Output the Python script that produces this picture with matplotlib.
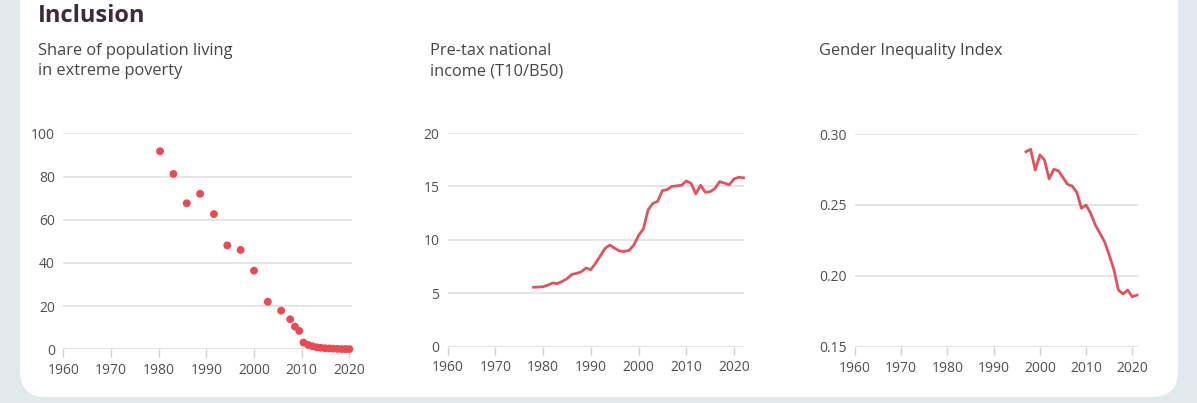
import matplotlib
matplotlib.use("Agg")
import matplotlib.pyplot as plt
from matplotlib.patches import FancyBboxPatch

plt.rcParams['font.family'] = ['Open Sans', 'DejaVu Sans']

# ---- Data ----
poverty_years = [1980.3, 1983.1, 1985.9, 1988.7, 1991.6, 1994.4, 1997.2, 2000.0,
                 2002.9, 2005.7, 2007.6, 2008.6, 2009.5, 2010.4, 2011.4, 2012.3,
                 2013.2, 2014.0, 2014.9, 2015.8, 2016.6, 2017.5, 2018.4, 2019.2, 2020.0]
poverty_share = [91.7, 81.2, 67.6, 72.0, 62.6, 48.1, 46.0, 36.4,
                 22.0, 17.9, 13.9, 10.5, 8.5, 3.1, 2.0, 1.4,
                 0.9, 0.7, 0.5, 0.4, 0.3, 0.2, 0.1, 0.1, 0.1]

income_years = list(range(1978, 2023))
income_ratio = [5.55, 5.57, 5.6, 5.75, 5.95, 5.9, 6.1, 6.35, 6.75, 6.85,
                7.0, 7.35, 7.2, 7.8, 8.5, 9.2, 9.5, 9.2, 8.95, 8.9,
                9.0, 9.5, 10.4, 11.0, 12.8, 13.4, 13.6, 14.6, 14.7, 15.0,
                15.05, 15.1, 15.5, 15.3, 14.3, 15.1, 14.45, 14.5, 14.8, 15.45,
                15.3, 15.15, 15.7, 15.85, 15.8]

gii_years = list(range(1997, 2022))
gii_values = [0.2875, 0.2892, 0.2746, 0.2852, 0.2817, 0.2683, 0.2751, 0.2741,
              0.2694, 0.2645, 0.2633, 0.2589, 0.2476, 0.2499, 0.2441, 0.2358,
              0.2300, 0.2240, 0.2147, 0.2046, 0.1900, 0.1872, 0.1900, 0.1852, 0.1864]

x_ticks = [1960, 1970, 1980, 1990, 2000, 2010, 2020]
titles = ["Share of population living\nin extreme poverty",
          "Pre-tax national\nincome (T10/B50)",
          "Gender Inequality Index"]
section_title = "Inclusion"

# ---- Styling ----
W, H = 1197, 403
fig = plt.figure(figsize=(W / 100, H / 100), dpi=100)
fig.patch.set_facecolor('#e1e9ed')

card = FancyBboxPatch((0.20, 0.06), 11.58, 4.6,
                      boxstyle="round,pad=0,rounding_size=0.26",
                      transform=fig.dpi_scale_trans, facecolor='white',
                      edgecolor='none', zorder=-5)
fig.patches.append(card)

RED_DOT = '#ea4a54'
RED_LINE = '#e0535b'
GRID = '#dedede'
TICKC = '#505050'


def px_axes(left, right, bottom, top):
    ax = fig.add_axes([left / W, (H - bottom) / H, (right - left) / W, (bottom - top) / H])
    ax.set_zorder(1)
    return ax


def style(ax, xlim, ylim, yticks, yfmt):
    ax.set_facecolor('none')
    ax.set_xlim(*xlim)
    ax.set_ylim(*ylim)
    for s in ax.spines.values():
        s.set_visible(False)
    ax.set_xticks(x_ticks)
    ax.set_yticks(yticks)
    ax.set_yticklabels([yfmt(v) for v in yticks])
    ax.yaxis.grid(True, color=GRID, linewidth=1.1)
    ax.set_axisbelow(True)
    ax.tick_params(axis='y', length=0, pad=6, labelsize=10, labelcolor=TICKC)
    ax.tick_params(axis='x', length=6, width=1, color='#d0d0d0', pad=4,
                   labelsize=10, labelcolor=TICKC)


# Panel 1
ax1 = px_axes(63.3, 351.7, 349.3, 133.3)
style(ax1, (1960, 2020.5), (0, 100), [0, 20, 40, 60, 80, 100], lambda v: f"{v:d}")
ax1.scatter(poverty_years, poverty_share, s=32, color=RED_DOT, edgecolor='none',
            clip_on=False, zorder=3)

# Panel 2
ax2 = px_axes(447.7, 744, 346.5, 133)
style(ax2, (1960, 2022.1), (0, 20), [0, 5, 10, 15, 20], lambda v: f"{v:d}")
ax2.plot(income_years, income_ratio, color=RED_LINE, linewidth=2.0, clip_on=False, zorder=3)

# Panel 3
ax3 = px_axes(855, 1138.3, 346.7, 134)
style(ax3, (1960, 2021.3), (0.15, 0.30), [0.15, 0.20, 0.25, 0.30], lambda v: f"{v:.2f}")
ax3.plot(gii_years, gii_values, color=RED_LINE, linewidth=2.0, clip_on=False, zorder=3)

# Texts
fig.text(38 / W, 1 - 16 / H, section_title, fontsize=17, fontweight='bold',
         color='#3d2a42', ha='left', va='center')
for xpx, t in zip([38, 430, 819], titles):
    fig.text(xpx / W, 1 - 43 / H, t, fontsize=11.8, color='#454545', ha='left',
             va='top', linespacing=1.37)

fig.savefig('out.png', dpi=100, facecolor=fig.get_facecolor())
